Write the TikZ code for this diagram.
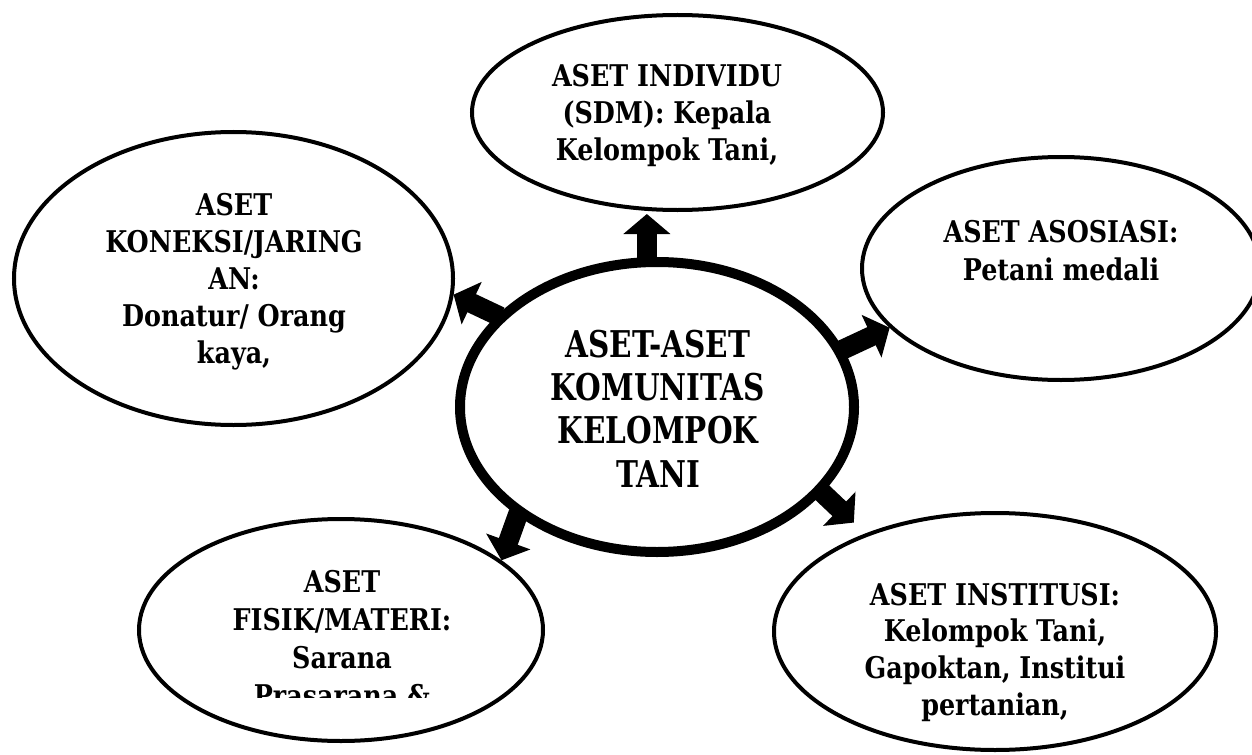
\documentclass[tikz,border=0pt]{standalone}
\usepackage{fontspec}
\setmainfont{DejaVu Serif}[FakeStretch=0.85]
\newfontfamily\hubfont{DejaVu Serif}[FakeStretch=0.80]
\usetikzlibrary{shapes.geometric,arrows.meta}
\begin{document}
\begin{tikzpicture}[x=1bp,y=-1bp,
  bub/.style={ellipse, draw, line width=4bp, outer sep=0pt, inner sep=0pt},
  hub/.style={ellipse, draw, line width=10bp, outer sep=0pt, inner sep=0pt},
  txt/.style={align=center, font=\bfseries\fontsize{30}{37}\selectfont, inner sep=0pt, anchor=base},
  bigtxt/.style={align=center, font=\hubfont\bfseries\fontsize{37}{43.3}\selectfont, inner sep=0pt, anchor=base},
  blk/.style={line width=20bp, -{Triangle[length=20bp,width=46bp]}, shorten <=2bp}
]
\useasboundingbox (0,0) rectangle (1252,755);
\clip (0,0) rectangle (1252,755);

% ellipses
\node[hub, minimum width=394bp, minimum height=290bp] (c) at (657,407) {};
\node[bub, minimum width=411bp, minimum height=195bp] (top) at (677.5,112.5) {};
\node[bub, minimum width=439bp, minimum height=293bp] (left) at (233.5,278.5) {};
\node[bub, minimum width=398bp, minimum height=223bp] (right) at (1061,268.5) {};
\node[bub, minimum width=404bp, minimum height=222bp] (bl) at (341,630) {};
\node[bub, minimum width=442bp, minimum height=237bp] (br) at (995,631.5) {};

% texts (anchor=base is the baseline of the last line)
\node[bigtxt] (tc) at (658,487) {ASET-ASET\\KOMUNITAS\\KELOMPOK\\TANI};
\node[txt] (ttop) at (667,160) {ASET INDIVIDU\\(SDM): Kepala\\Kelompok Tani,};
\node[txt] (tleft) at (234,363) {ASET\\KONEKSI/JARING\\AN:\\Donatur/ Orang\\kaya,};
\node[txt, font=\bfseries\fontsize{30}{38}\selectfont] (tright) at (1061,280) {ASET ASOSIASI:\\Petani medali};
\begin{scope}
\clip (0,0) rectangle (1252,697);
\node[txt, font=\bfseries\fontsize{30}{38}\selectfont] (tbl) at (342,706) {ASET\\FISIK/MATERI:\\Sarana\\Prasarana \&};
\end{scope}
\node[txt, font=\bfseries\fontsize{30}{36.7}\selectfont] (tbr) at (995,715) {ASET INSTITUSI:\\Kelompok Tani,\\Gapoktan, Institui\\pertanian,};

% arrows
\draw[blk, shorten >=4bp] (c.94) -- (c.94 |- top.south);
\draw[blk, shorten >=2bp] (c.150.8) -- (left.-4.8);
\draw[blk, shorten >=2bp] (c.17.4) -- (right.199.2);
\draw[blk, shorten >=2bp] (c.217.9) -- (bl.23.8);
\draw[blk, shorten >=18bp] (c.333.1) -- (br.143.8);
\end{tikzpicture}
\end{document}
